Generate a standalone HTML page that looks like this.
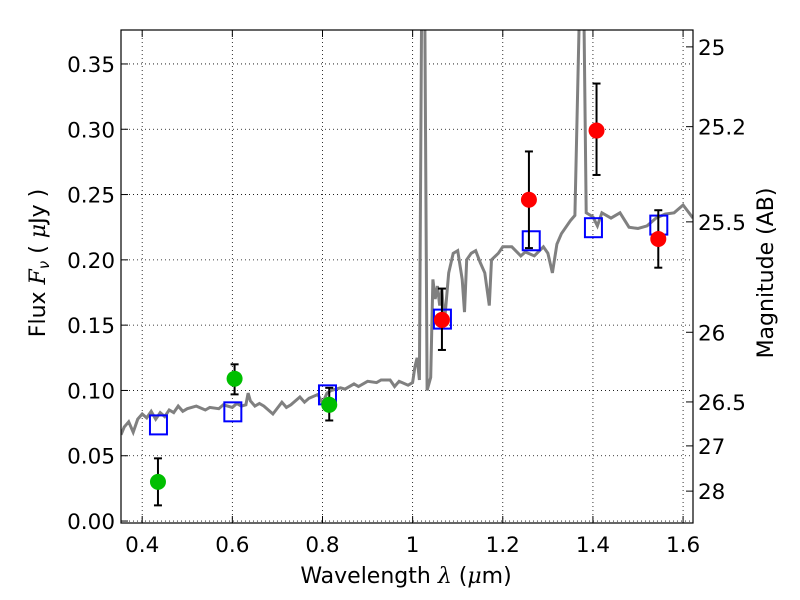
<!DOCTYPE html>
<html><head><meta charset="utf-8"><style>
body{margin:0;background:#fff}
svg text{font-family:"DejaVu Sans","Liberation Sans",sans-serif;fill:#000}
</style></head><body>
<svg id="chart" width="800" height="600" viewBox="0 0 800 600" xmlns="http://www.w3.org/2000/svg" style="position:absolute;left:0;top:0">
<rect width="800" height="600" fill="#fff"/>
<g id="grid"></g>
<g id="plot"></g>
<g id="axes"></g>
</svg>
<script>
const specX=[0.353,0.36,0.37,0.38,0.39,0.40,0.41,0.42,0.43,0.44,0.45,0.46,0.47,0.48,0.49,0.50,0.52,0.54,0.55,0.57,0.58,0.60,0.61,0.62,0.63,0.635,0.64,0.65,0.66,0.67,0.69,0.71,0.72,0.73,0.75,0.76,0.77,0.79,0.80,0.81,0.82,0.84,0.85,0.87,0.88,0.90,0.92,0.93,0.95,0.96,0.97,0.99,1.0,1.005,1.01,1.015,1.02,1.027,1.032,1.04,1.045,1.05,1.055,1.06,1.065,1.07,1.08,1.09,1.10,1.11,1.115,1.12,1.13,1.14,1.15,1.16,1.17,1.175,1.19,1.20,1.22,1.24,1.25,1.27,1.29,1.30,1.31,1.32,1.33,1.35,1.36,1.37,1.38,1.385,1.40,1.41,1.42,1.44,1.46,1.48,1.50,1.52,1.54,1.56,1.58,1.60,1.622];
const specY=[0.066,0.072,0.076,0.068,0.078,0.082,0.079,0.084,0.078,0.083,0.080,0.085,0.083,0.088,0.084,0.086,0.088,0.085,0.087,0.086,0.089,0.087,0.090,0.088,0.089,0.098,0.092,0.088,0.090,0.088,0.082,0.091,0.087,0.089,0.095,0.091,0.094,0.097,0.090,0.098,0.100,0.102,0.101,0.105,0.103,0.107,0.106,0.108,0.108,0.103,0.107,0.104,0.106,0.118,0.125,0.108,0.39,0.39,0.10,0.11,0.185,0.17,0.18,0.165,0.178,0.15,0.19,0.205,0.207,0.185,0.16,0.20,0.205,0.207,0.198,0.19,0.165,0.20,0.205,0.210,0.210,0.203,0.206,0.203,0.210,0.205,0.190,0.212,0.220,0.230,0.234,0.39,0.39,0.236,0.233,0.226,0.236,0.232,0.236,0.225,0.224,0.226,0.232,0.235,0.236,0.242,0.232];
const greenX=[0.435,0.605,0.815];
const greenY=[0.030,0.109,0.089];
const greenHi=[0.048,0.120,0.102];
const greenLo=[0.012,0.097,0.077];
const redX=[1.065,1.258,1.408,1.545];
const redY=[0.154,0.246,0.299,0.216];
const redHi=[0.178,0.283,0.335,0.238];
const redLo=[0.131,0.209,0.265,0.194];
const boxX=[0.435,0.60,0.81,1.065,1.262,1.40,1.545];
const boxY=[0.074,0.084,0.097,0.155,0.215,0.225,0.227];
const xTicks=[0.4,0.6,0.8,1.0,1.2,1.4,1.6];
const xTickLabels=["0.4","0.6","0.8","1","1.2","1.4","1.6"];
const yTicks=[0,0.05,0.10,0.15,0.20,0.25,0.30,0.35];
const yTickLabels=["0.00","0.05","0.10","0.15","0.20","0.25","0.30","0.35"];
const magTicks=[25,25.2,25.5,26,26.5,27,28];
const magLabels=["25","25.2","25.5","26","26.5","27","28"];

const L=121,R=693,T=30,B=523,x0=0.353,y0=-0.0015,y1=0.376;
const X=v=>L+(v-x0)/(1.622-x0)*(R-L);
const Y=v=>B-(v-y0)/(y1-y0)*(B-T);
const NS="http://www.w3.org/2000/svg";
function mk(parent,tag,attrs){const e=document.createElementNS(NS,tag);for(const k in attrs)e.setAttribute(k,attrs[k]);parent.appendChild(e);return e;}
const grid=document.getElementById('grid'),plot=document.getElementById('plot'),axes=document.getElementById('axes');

xTicks.forEach((t,i)=>{
  const g=mk(grid,'line',{x1:X(t),x2:X(t),y1:T,y2:B,stroke:'#000','stroke-width':0.8,'stroke-dasharray':'1,3'});
  
  
  mk(axes,'line',{x1:X(t),x2:X(t),y1:B,y2:B-7,stroke:'#000'});
  mk(axes,'line',{x1:X(t),x2:X(t),y1:T,y2:T+7,stroke:'#000'});
  const tx=mk(axes,'text',{x:X(t),y:B+29,'font-size':21.5,'text-anchor':'middle'});
  tx.textContent=xTickLabels[i];
  
  
});
yTicks.forEach((t,i)=>{
  const g=mk(grid,'line',{x1:L,x2:R,y1:Y(t),y2:Y(t),stroke:'#000','stroke-width':0.8,'stroke-dasharray':'1,3'});
  
  
  mk(axes,'line',{x1:L,x2:L+7,y1:Y(t),y2:Y(t),stroke:'#000'});
  const tx=mk(axes,'text',{x:L-6,y:Y(t)+8,'font-size':21.5,'text-anchor':'end'});
  tx.textContent=yTickLabels[i];
  
  
});
magTicks.forEach((m,i)=>{
  const f=Math.pow(10,(23.9-m)/2.5);
  const y=Y(f);
  mk(axes,'line',{x1:R,x2:R-7,y1:y,y2:y,stroke:'#000'});
  const tx=mk(axes,'text',{x:R+5,y:y+8,'font-size':21.5});
  tx.textContent=magLabels[i];
  
  
});

const d=specX.map((x,i)=>(i?'L':'M')+X(x).toFixed(1)+','+Y(Math.min(specY[i],0.4)).toFixed(1)).join('');
const clip=mk(plot,'clipPath',{id:'clip'});mk(clip,'rect',{x:L,y:T,width:R-L,height:B-T});
const sp=mk(plot,'path',{d:d,fill:'none',stroke:'#808080','stroke-width':3,'clip-path':'url(#clip)'});



boxX.forEach((x,i)=>{
  const b=mk(plot,'rect',{x:X(x)-8,y:Y(boxY[i])-9,width:17,height:19,fill:'none',stroke:'#0000ff','stroke-width':2});
  
  
});
function pts(xs,ys,hi,lo,col,name){
  xs.forEach((x,i)=>{
    const cx=X(x);
    mk(plot,'line',{x1:cx,x2:cx,y1:Y(hi[i]),y2:Y(lo[i]),stroke:'#000','stroke-width':2});
    mk(plot,'line',{x1:cx-4,x2:cx+4,y1:Y(hi[i]),y2:Y(hi[i]),stroke:'#000','stroke-width':2});
    mk(plot,'line',{x1:cx-4,x2:cx+4,y1:Y(lo[i]),y2:Y(lo[i]),stroke:'#000','stroke-width':2});
    const c=mk(plot,'circle',{cx:cx,cy:Y(ys[i]),r:8,fill:col});
    
    
  });
}
pts(greenX,greenY,greenHi,greenLo,'#00bf00','hst-flux-point');
pts(redX,redY,redHi,redLo,'#ff0000','ir-flux-point');

const fr=mk(axes,'rect',{x:L,y:T,width:R-L,height:B-T,fill:'none',stroke:'#000','stroke-width':1.2});


</script>
<svg style="position:absolute;left:0;top:0" width="800" height="600">
<text x="406" y="583" font-size="22" text-anchor="middle" style="font-family:'DejaVu Sans',sans-serif">Wavelength  <tspan font-style="italic" font-family="DejaVu Serif,serif">λ</tspan> (<tspan font-style="italic" font-family="DejaVu Serif,serif">μ</tspan>m)</text>
<text transform="translate(45,263) rotate(-90)" font-size="22" text-anchor="middle" style="font-family:'DejaVu Sans',sans-serif">Flux  <tspan font-style="italic" font-family="DejaVu Serif,serif">F</tspan><tspan font-style="italic" font-size="15" dy="4">ν</tspan><tspan dy="-4">  (  </tspan><tspan font-style="italic" font-family="DejaVu Serif,serif">μ</tspan>Jy )</text>
<text transform="translate(773,273) rotate(-90)" font-size="22" text-anchor="middle" style="font-family:'DejaVu Sans',sans-serif">Magnitude (AB)</text>
</svg>
</body></html>
